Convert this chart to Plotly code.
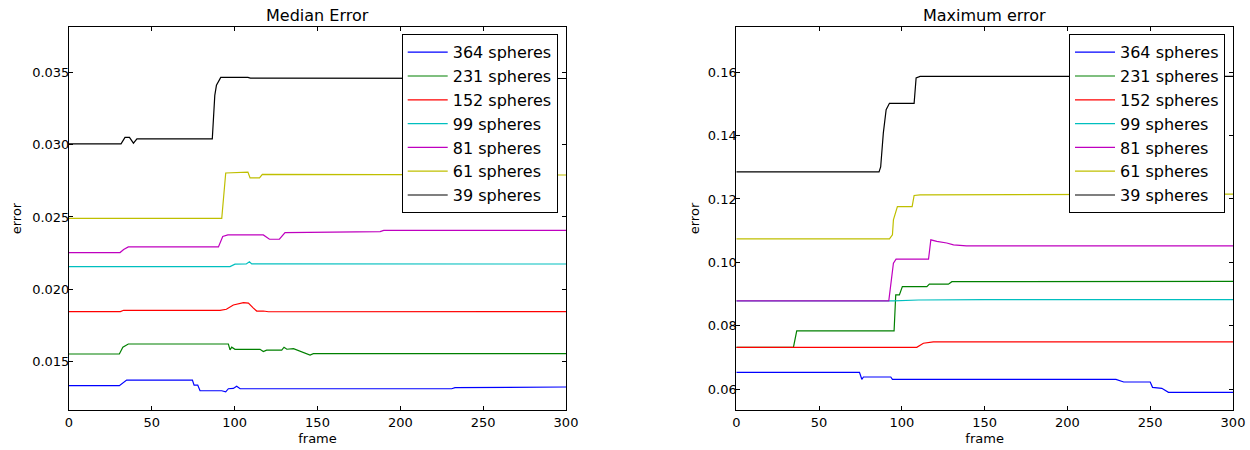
import plotly.graph_objects as go

labels = ["364 spheres", "231 spheres", "152 spheres", "99 spheres", "81 spheres", "61 spheres", "39 spheres"]
colors = ["#0000ff", "#008000", "#ff0000", "#00bfbf", "#bf00bf", "#bfbf00", "#000000"]

# ---- Median error (left) ----
med_364_x = [0, 30.4, 34.8, 74.5, 75.5, 77.7, 79.1, 92.2, 94.6, 96.2, 99.2, 101.2, 103.3, 231, 233, 250.2, 251.5, 300]
med_364_y = [0.01334, 0.01334, 0.01373, 0.01373, 0.01338, 0.01338, 0.01299, 0.01299, 0.01291, 0.01313, 0.01315, 0.0133, 0.01313, 0.01313, 0.0132, 0.0132, 0.01325, 0.01325]
med_231_x = [0, 30.4, 32.5, 35.8, 96.2, 97.2, 98.2, 100.2, 115.3, 117.3, 119.3, 128.4, 129.8, 131.5, 135.5, 140.5, 145.5, 147.5, 300]
med_231_y = [0.01553, 0.01553, 0.0160, 0.01622, 0.01622, 0.01581, 0.0160, 0.01585, 0.01585, 0.0157, 0.0158, 0.0158, 0.0160, 0.01586, 0.0159, 0.0157, 0.01546, 0.01555, 0.01555]
med_152_x = [0, 31, 33, 91.2, 95, 99.2, 105.3, 108.3, 111.3, 113.3, 117.3, 120.4, 300]
med_152_y = [0.01846, 0.01846, 0.01855, 0.01855, 0.01862, 0.01892, 0.01908, 0.01905, 0.0187, 0.0185, 0.0185, 0.01845, 0.01846]
med_99_x = [0, 97.2, 100.2, 107, 108.9, 110.3, 300]
med_99_y = [0.02157, 0.02157, 0.02174, 0.02175, 0.0219, 0.02176, 0.02175]
med_81_x = [0, 30.8, 33, 35.8, 90.2, 92.8, 95.9, 117.3, 121, 127, 130.4, 187.8, 190, 300]
med_81_y = [0.02254, 0.02254, 0.02275, 0.02293, 0.02293, 0.02365, 0.02376, 0.02376, 0.02346, 0.02346, 0.02392, 0.02399, 0.02407, 0.02408]
med_61_x = [0, 92.2, 94.6, 107.3, 108, 109.3, 115, 116.7, 300]
med_61_y = [0.0249, 0.0249, 0.02804, 0.02806, 0.0281, 0.0277, 0.0277, 0.02795, 0.0279]
med_39_x = [0, 31.4, 33.8, 36.5, 38.9, 41, 86.5, 88, 89, 91.6, 108, 109.5, 300]
med_39_y = [0.03005, 0.03005, 0.0305, 0.0305, 0.0301, 0.0304, 0.0304, 0.0334, 0.0341, 0.03465, 0.03465, 0.0346, 0.03457]

# ---- Maximum error (right) ----
max_364_x = [0, 74.4, 75.8, 76.8, 93.3, 94.3, 229.3, 234, 250, 251.4, 257, 261, 300]
max_364_y = [0.06527, 0.06527, 0.06306, 0.06379, 0.06379, 0.06306, 0.06306, 0.06221, 0.06221, 0.06053, 0.06022, 0.05895, 0.05895]
max_231_x = [0, 34.5, 36.5, 95.3, 96.3, 98.5, 100.3, 115.1, 116.6, 128.1, 130.2, 300]
max_231_y = [0.07317, 0.07317, 0.07833, 0.07833, 0.0897, 0.0897, 0.09233, 0.09233, 0.0931, 0.0931, 0.0939, 0.0940]
max_152_x = [0, 109, 113, 119, 300]
max_152_y = [0.07317, 0.07317, 0.07444, 0.07485, 0.07485]
max_99_x = [0, 95, 110, 150, 300]
max_99_y = [0.08781, 0.08781, 0.0881, 0.08822, 0.08822]
max_81_x = [0, 92.1, 94.9, 96.5, 116.1, 117.5, 121.1, 127.1, 131.2, 135.2, 139, 300]
max_81_y = [0.08781, 0.08781, 0.0997, 0.1010, 0.1010, 0.1071, 0.1066, 0.1061, 0.1055, 0.1053, 0.1052, 0.1052]
max_61_x = [0, 92.5, 94.3, 94.9, 97.3, 106.2, 107.4, 111, 300]
max_61_y = [0.1074, 0.1074, 0.1087, 0.1134, 0.1176, 0.1176, 0.1211, 0.1213, 0.1215]
max_39_x = [0, 86.2, 87.2, 88.8, 90.5, 92.5, 107.4, 108.6, 111, 300]
max_39_y = [0.12857, 0.12857, 0.1301, 0.1408, 0.1482, 0.1502, 0.1502, 0.1582, 0.1587, 0.1587]

med_series = [(med_364_x, med_364_y), (med_231_x, med_231_y), (med_152_x, med_152_y), (med_99_x, med_99_y),
              (med_81_x, med_81_y), (med_61_x, med_61_y), (med_39_x, med_39_y)]
max_series = [(max_364_x, max_364_y), (max_231_x, max_231_y), (max_152_x, max_152_y), (max_99_x, max_99_y),
              (max_81_x, max_81_y), (max_61_x, max_61_y), (max_39_x, max_39_y)]

x_ticks = [0, 50, 100, 150, 200, 250, 300]
med_ticks = [0.015, 0.020, 0.025, 0.030, 0.035]
max_ticks = [0.06, 0.08, 0.10, 0.12, 0.14, 0.16]

FONT = "DejaVu Sans"
fig = go.Figure()
for (xs, ys), lab, col in zip(med_series, labels, colors):
    fig.add_trace(go.Scatter(x=xs, y=ys, mode="lines", name=lab, line=dict(color=col, width=1.2),
                             xaxis="x", yaxis="y", legend="legend"))
for (xs, ys), lab, col in zip(max_series, labels, colors):
    fig.add_trace(go.Scatter(x=xs, y=ys, mode="lines", name=lab, line=dict(color=col, width=1.2),
                             xaxis="x2", yaxis="y2", legend="legend2"))

W, H = 1250, 450
ml, mr, mt, mb = 69, 17, 27, 40
pw = W - ml - mr
ph = H - mt - mb
d1 = [0, (566 - ml) / pw]
d2 = [(736.3 - ml) / pw, 1]

axis_common = dict(showline=True, linecolor="black", linewidth=1, mirror="ticks", ticks="inside",
                   ticklen=4, tickcolor="black", showgrid=False, zeroline=False, automargin=False,
                   tickfont=dict(family=FONT, size=13, color="black"))

leg_common = dict(bgcolor="white", bordercolor="black", borderwidth=1,
                  font=dict(family=FONT, size=16, color="black"), itemwidth=40,
                  xanchor="right", yanchor="top", tracegroupgap=0)

fig.update_layout(
    width=W, height=H, margin=dict(l=ml, r=mr, t=mt, b=mb, autoexpand=False),
    paper_bgcolor="white", plot_bgcolor="white",
    font=dict(family=FONT, color="black"),
    xaxis=dict(domain=d1, range=[0, 300], tickvals=x_ticks, anchor="y",
               title=dict(text="frame", font=dict(family=FONT, size=13), standoff=5), **axis_common),
    yaxis=dict(range=[0.01166, 0.03813], tickvals=med_ticks, tickformat=".3f", anchor="x",
               ticklabelstandoff=-4,
               title=dict(text="error", font=dict(family=FONT, size=13), standoff=7), **axis_common),
    xaxis2=dict(domain=d2, range=[0, 300], tickvals=x_ticks, anchor="y2",
                title=dict(text="frame", font=dict(family=FONT, size=13), standoff=5), **axis_common),
    yaxis2=dict(range=[0.05337, 0.1743], tickvals=max_ticks, tickformat=".2f", anchor="x2",
                ticklabelstandoff=-4,
                title=dict(text="error", font=dict(family=FONT, size=13), standoff=5), **axis_common),
    legend=dict(x=(557.7 - ml) / pw, y=(410 - 34.3) / ph, **leg_common),
    legend2=dict(x=(1225 - ml) / pw, y=(410 - 34.3) / ph, **leg_common),
    annotations=[
        dict(text="Median Error", x=(d1[0] + d1[1]) / 2, y=1, xref="paper", yref="paper",
             xanchor="center", yanchor="bottom", yshift=0, showarrow=False,
             font=dict(family=FONT, size=16, color="black")),
        dict(text="Maximum error", x=(d2[0] + d2[1]) / 2, y=1, xref="paper", yref="paper",
             xanchor="center", yanchor="bottom", yshift=0, showarrow=False,
             font=dict(family=FONT, size=16, color="black")),
    ],
)

fig.write_html("out.html", config={"displayModeBar": False},
               post_script="document.body.style.margin='0';")
